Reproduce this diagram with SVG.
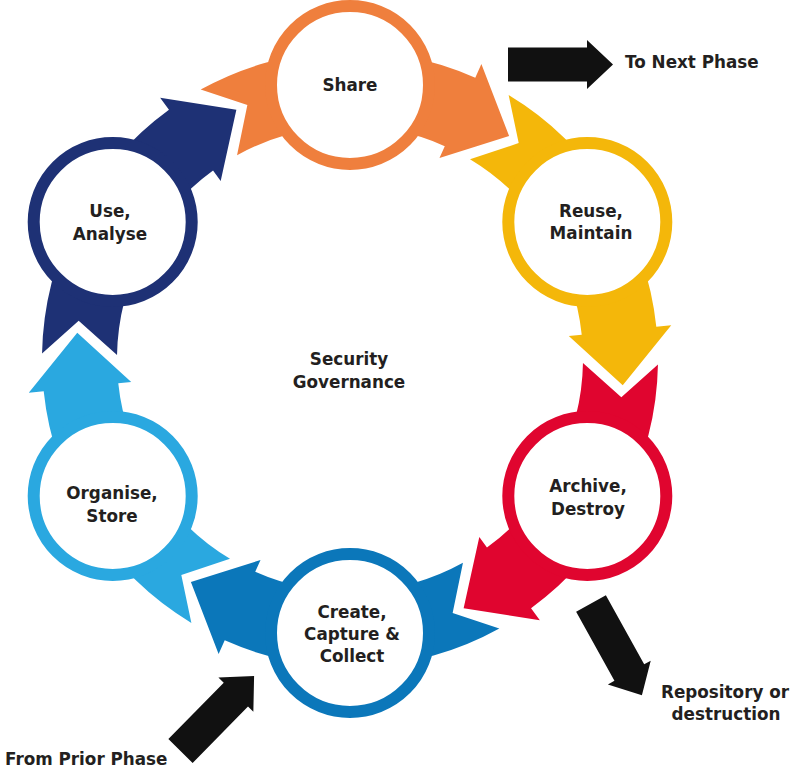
<svg xmlns="http://www.w3.org/2000/svg" xmlns:xlink="http://www.w3.org/1999/xlink" width="802" height="780" viewBox="0 0 802 780">
<style>
  .lbl { font-family: "DejaVu Sans", "Liberation Sans", sans-serif; font-weight: bold; font-size: 16.8px; fill: #231f20; text-anchor: middle; }
  .lbs { text-anchor: start; }
  .ring { fill: #ffffff; stroke-width: 12; }
  .blk { fill: #111111; }
</style>
<defs>
  <path id="band" d="M269.38,-149.32 A308,308 0 0 1 281.37,125.27 L295.08,131.38 L223.07,159.11 L200.98,89.48 L212.86,94.77 A233,233 0 0 0 203.79,-112.96 L254.05,-102.64 Z"/>
  <polygon id="blkArrow" points="0,-17 79,-17 79,-24.5 105,0 79,24.5 79,17 0,17"/>
</defs>
<rect width="802" height="780" fill="#ffffff"/>
<g id="connectors">
  <use xlink:href="#band" href="#band" transform="translate(350,359) rotate(-90)" fill="#ef7f3d"/>
  <use xlink:href="#band" href="#band" transform="translate(350,359) rotate(-30)" fill="#f4b70a"/>
  <use xlink:href="#band" href="#band" transform="translate(350,359) rotate(30)" fill="#e0052f"/>
  <use xlink:href="#band" href="#band" transform="translate(350,359) rotate(90)" fill="#0b77ba"/>
  <use xlink:href="#band" href="#band" transform="translate(350,359) rotate(150)" fill="#2aa8e0"/>
  <use xlink:href="#band" href="#band" transform="translate(350,359) rotate(210)" fill="#1e3175"/>
  <use xlink:href="#blkArrow" href="#blkArrow" class="blk" transform="translate(508,64.5)"/>
  <use xlink:href="#blkArrow" href="#blkArrow" class="blk" transform="translate(591,603.5) rotate(61)"/>
  <use xlink:href="#blkArrow" href="#blkArrow" class="blk" transform="translate(180.5,751) rotate(-45.5)"/>
</g>
<g id="node-share">
  <circle class="ring" cx="350" cy="85" r="79" stroke="#ef7f3d"/>
  <text class="lbl" x="350" y="91">Share</text>
</g>
<g id="node-reuse">
  <circle class="ring" cx="587.3" cy="222" r="79" stroke="#f4b70a"/>
  <text class="lbl" x="591" y="217">Reuse,</text>
  <text class="lbl" x="591" y="239">Maintain</text>
</g>
<g id="node-archive">
  <circle class="ring" cx="587.3" cy="496" r="79" stroke="#e0052f"/>
  <text class="lbl" x="588" y="492">Archive,</text>
  <text class="lbl" x="588" y="515">Destroy</text>
</g>
<g id="node-create">
  <circle class="ring" cx="350" cy="633" r="79" stroke="#0b77ba"/>
  <text class="lbl" x="352" y="618">Create,</text>
  <text class="lbl" x="352" y="640">Capture &amp;</text>
  <text class="lbl" x="352" y="662">Collect</text>
</g>
<g id="node-organise">
  <circle class="ring" cx="112.7" cy="496" r="79" stroke="#2aa8e0"/>
  <text class="lbl" x="112" y="499">Organise,</text>
  <text class="lbl" x="112" y="522">Store</text>
</g>
<g id="node-use">
  <circle class="ring" cx="112.7" cy="222" r="79" stroke="#1e3175"/>
  <text class="lbl" x="110" y="217">Use,</text>
  <text class="lbl" x="110" y="240">Analyse</text>
</g>
<g id="node-center">
  <text class="lbl" x="349" y="365">Security</text>
  <text class="lbl" x="349" y="388">Governance</text>
</g>
<g id="node-next">
  <text class="lbl lbs" x="625" y="68">To Next Phase</text>
</g>
<g id="node-repository">
  <text class="lbl" x="725" y="698">Repository or</text>
  <text class="lbl" x="726" y="720">destruction</text>
</g>
<g id="node-prior">
  <text class="lbl lbs" x="5" y="765">From Prior Phase</text>
</g>
</svg>
